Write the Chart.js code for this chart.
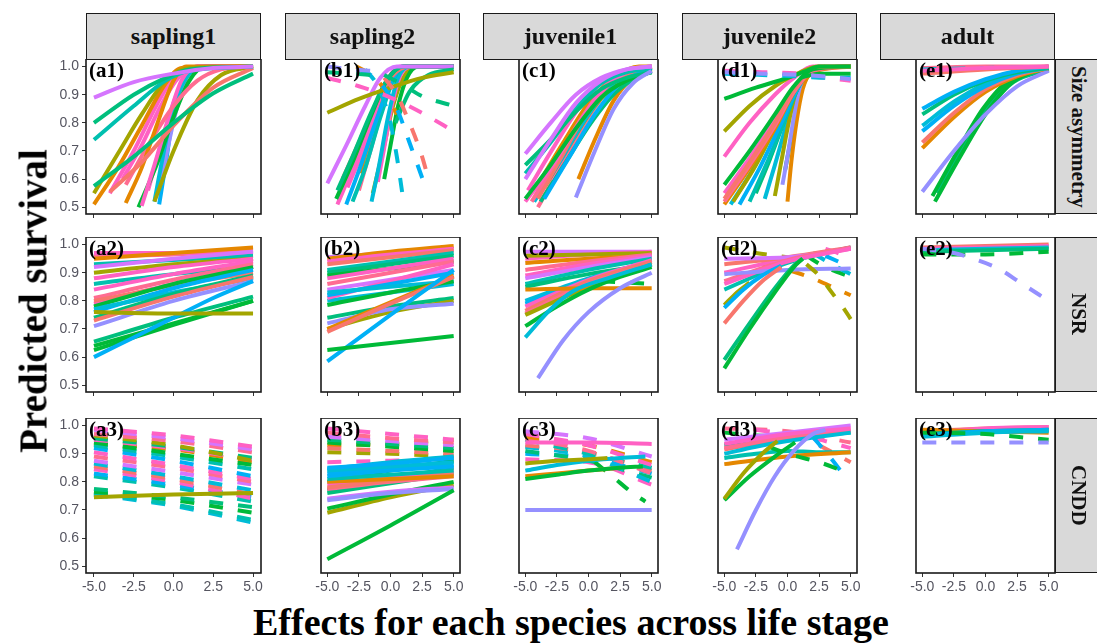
<!DOCTYPE html>
<html>
<head>
<meta charset="utf-8">
<script src="https://cdn.jsdelivr.net/npm/chart.js@4.4.1/dist/chart.umd.min.js"></script>
<style>
  body { margin: 0; background: #fff; }
  #fig { position: relative; width: 1097px; height: 643px; overflow: hidden; font-family: "Liberation Serif", "Times New Roman", serif; }
  #fig canvas { position: absolute; }
  .strip { position: absolute; background: #d9d9d9; border: 1.5px solid #1a1a1a; box-sizing: border-box;
           display: flex; align-items: center; justify-content: center; font-weight: bold; font-size: 24px; color: #111; }
  .strip.side { font-size: 21px; }
  .strip.side span { writing-mode: vertical-rl; white-space: nowrap; }
  .title { position: absolute; font-weight: bold; line-height: 1; white-space: nowrap; color: #000; }
</style>
</head>
<body>
<div id="fig"></div>
<script>
// life stages (columns) and effects (rows)
const stages = ['sapling1', 'sapling2', 'juvenile1', 'juvenile2', 'adult'];
const effects = ['Size asymmetry', 'NSR', 'CNDD'];
const xTicks = [-5, -2.5, 0, 2.5, 5];
const yTicks = [0.5, 0.6, 0.7, 0.8, 0.9, 1.0];

// species colours (ggplot hue style)
const speciesColors = ['#F8766D', '#E58700', '#A3A500', '#00BA38', '#00BF7D', '#00C0AF',
                       '#00BCD8', '#00B0F6', '#9590FF', '#D575FE', '#FF61C3', '#FF6C91'];

// each line: [species, significant (1 solid / 0 dashed), [[effect, survival], ...]]
// row 1 - size asymmetry
const a1 = [
  [9,1,[[-5,.89],[-2.5,.945],[0,.975],[2.5,.995],[5,1]]],
  [4,1,[[-5,.80],[-2.5,.90],[-0.5,.96],[1,.99],[5,1]]],
  [5,1,[[-5,.74],[-2.5,.86],[-0.5,.95],[1,.985],[5,1]]],
  [4,1,[[-5,.575],[-2.5,.68],[0,.80],[2.5,.905],[5,.975]]],
  [0,1,[[-4,.555],[-2,.66],[0,.79],[2.5,.925],[5,.995]]],
  [2,1,[[-5,.55],[-3.5,.69],[-2,.83],[-0.5,.95],[1,.995],[5,1]]],
  [1,1,[[-5,.51],[-3.5,.64],[-2,.79],[-0.5,.94],[0.5,.995],[5,1]]],
  [1,1,[[-3,.515],[-2,.64],[-1,.80],[0,.95],[0.8,1],[5,1]]],
  [11,1,[[-3,.58],[-1.5,.73],[0,.86],[1.5,.95],[3,.99],[5,1]]],
  [2,1,[[-1.2,.52],[0,.70],[1.5,.88],[3,.97],[5,1]]],
  [10,1,[[-4,.55],[-2.5,.70],[-1,.87],[0,.96],[1,.995],[5,1]]],
  [10,1,[[-3.2,.60],[-2,.72],[-0.8,.86],[0.3,.96],[1.5,1],[5,1]]],
  [10,1,[[-2,.505],[-1.2,.65],[-0.3,.82],[0.5,.95],[1.5,1],[5,1]]],
  [3,1,[[-2.2,.50],[-1,.66],[0,.82],[1,.95],[2,1],[5,1]]],
  [6,1,[[-1.2,.52],[-0.6,.70],[0,.85],[0.8,.96],[2,1],[5,1]]],
  [8,1,[[-0.8,.58],[-0.4,.70],[0.2,.85],[0.8,.96],[1.5,1],[5,1]]],
  [7,1,[[-0.9,.51],[-0.5,.65],[-0.1,.80],[0.5,.94],[1.2,.995],[5,1]]],
  [10,1,[[-1.6,.56],[-0.8,.72],[0,.87],[0.8,.97],[1.8,1],[5,1]]]
];
const b1 = [
  [8,0,[[-5,1.0],[-3,.99],[-1.5,.985]]],
  [4,0,[[-5,.98],[-3,.975],[-1.5,.97]]],
  [10,0,[[-5,.96],[-2.5,.93],[0,.89],[2.5,.835],[5,.77]]],
  [4,0,[[-0.5,.97],[1,.935],[2.5,.895],[5,.86]]],
  [0,0,[[-0.5,.96],[0.5,.90],[1.5,.80],[2.5,.68],[3,.60]]],
  [7,0,[[-2.5,.99],[-1,.95],[0.5,.85],[1.5,.73],[2.9,.555]]],
  [6,0,[[-2,.99],[-1,.93],[0,.80],[0.5,.68],[1,.53]]],
  [1,0,[[-2.7,1.0],[-1.5,.97],[-0.5,.92],[0.5,.83]]],
  [2,1,[[-5,.836],[-2.5,.885],[0,.925],[2.5,.96],[5,.98]]],
  [4,1,[[0.4,.80],[1.5,.91],[3,.97],[5,.99]]],
  [9,1,[[-5,.585],[-3.5,.72],[-2,.86],[-0.8,.96],[0.5,1],[5,1]]],
  [4,1,[[-4.2,.56],[-3,.68],[-1.5,.84],[-0.3,.95],[1,1],[5,1]]],
  [3,1,[[-4.3,.53],[-3,.66],[-1.5,.83],[-0.3,.95],[1,1],[5,1]]],
  [10,1,[[-4.2,.51],[-3,.64],[-1.5,.82],[-0.3,.95],[0.8,1],[5,1]]],
  [0,1,[[-3.8,.60],[-2.5,.73],[-1,.88],[0.2,.97],[1.5,1],[5,1]]],
  [7,1,[[-3.5,.51],[-2.5,.63],[-1.2,.80],[0,.94],[1,1],[5,1]]],
  [5,1,[[-3,.52],[-2,.64],[-0.8,.82],[0.3,.96],[1.2,1],[5,1]]],
  [11,1,[[-2.5,.56],[-1.6,.70],[-0.6,.86],[0.3,.97],[1.2,1],[5,1]]],
  [1,1,[[-2.3,.62],[-1.5,.74],[-0.5,.89],[0.4,.98],[1.5,1],[5,1]]],
  [6,1,[[-1.5,.52],[-0.9,.65],[-0.2,.82],[0.6,.96],[1.5,1],[5,1]]],
  [10,1,[[-1,.59],[-0.5,.71],[0.1,.86],[0.8,.97],[1.8,1],[5,1]]],
  [3,1,[[-0.5,.60],[0,.72],[0.6,.86],[1.3,.96],[2.2,1],[5,1]]],
  [2,1,[[-1.4,.55],[-0.6,.70],[0.2,.86],[1,.96],[2,1],[5,1]]],
  [10,1,[[-3.4,.57],[-2.2,.70],[-1,.85],[0,.95],[1.2,1],[5,1]]]
];
const c1 = [
  [8,1,[[-1,.535],[0.5,.70],[2,.85],[3.5,.94],[5,.985]]],
  [9,1,[[-5,.69],[-3,.80],[-1,.90],[1,.96],[3,.99],[5,1]]],
  [9,1,[[-5,.60],[-3,.74],[-1,.87],[1,.95],[3,.99],[5,1]]],
  [4,1,[[-5,.65],[-3,.74],[-1,.84],[1,.92],[3,.96],[5,.98]]],
  [5,1,[[-5,.62],[-3,.73],[-1,.85],[1,.94],[3,.98],[5,.99]]],
  [3,1,[[-5,.53],[-3,.65],[-1,.78],[1,.89],[3,.95],[5,.98]]],
  [10,1,[[-5,.52],[-3,.64],[-1,.78],[1,.91],[3,.98],[5,1]]],
  [11,1,[[-4.5,.52],[-2.5,.67],[-0.5,.82],[1.5,.94],[3.5,.99],[5,1]]],
  [0,1,[[-4,.53],[-2,.69],[0,.85],[2,.95],[4,.99],[5,1]]],
  [1,1,[[-4,.58],[-2,.73],[0,.87],[2,.96],[4,1],[5,1]]],
  [7,1,[[-3.5,.53],[-1.5,.68],[0.5,.83],[2.5,.94],[5,.995]]],
  [6,1,[[-4.3,.52],[-2.3,.66],[-0.3,.81],[1.7,.93],[3.7,.985],[5,1]]],
  [2,1,[[-3.5,.57],[-1.5,.72],[0.5,.86],[2.5,.95],[5,1]]],
  [10,1,[[-3,.60],[-1,.76],[1,.90],[3,.97],[5,1]]],
  [4,1,[[-3.8,.52],[-1.8,.66],[0.2,.80],[2.2,.91],[4.2,.97],[5,.985]]],
  [10,1,[[-4.8,.56],[-2.8,.71],[-0.8,.85],[1.2,.95],[3.2,.99],[5,1]]],
  [1,1,[[-0.8,.60],[0.5,.74],[2,.88],[3.5,.96],[5,.99]]],
  [11,1,[[-4,.50],[-2,.66],[0,.82],[2,.94],[4,.99],[5,1]]]
];
const d1 = [
  [8,0,[[-5,.98],[-2,.975],[1,.97],[3,.965],[5,.955]]],
  [6,0,[[-5,.975],[-2,.97],[1,.965],[3,.96],[5,.96]]],
  [10,0,[[-5,.985],[-2,.98],[1,.975],[3,.96],[5,.95]]],
  [3,1,[[1,.96],[2.5,.975],[5,.975]]],
  [3,1,[[-5,.885],[-2.5,.925],[0,.96],[1.5,.985],[2.5,1],[5,1]]],
  [2,1,[[-5,.77],[-3,.86],[-1,.93],[1,.98],[2.5,1],[5,1]]],
  [10,1,[[-5,.68],[-3,.80],[-1,.90],[0.5,.96],[2,1],[5,1]]],
  [3,1,[[-5,.58],[-3,.70],[-1,.83],[0.5,.93],[2,.99],[5,1]]],
  [0,1,[[-5,.53],[-3,.66],[-1,.80],[0.5,.92],[2,.99],[5,1]]],
  [11,1,[[-5,.52],[-3,.65],[-1,.79],[0.5,.91],[2,.985],[5,1]]],
  [1,1,[[-5,.51],[-3,.64],[-1,.78],[0.5,.91],[2,.98],[5,1]]],
  [10,1,[[-5,.55],[-3,.675],[-1,.81],[0.5,.92],[2,.99],[5,1]]],
  [2,1,[[-4.3,.52],[-2.5,.65],[-0.8,.80],[0.8,.93],[2,.99],[5,1]]],
  [6,1,[[-4.5,.51],[-2.8,.63],[-1,.78],[0.7,.92],[2,.99],[5,1]]],
  [7,1,[[-3.8,.51],[-2.2,.64],[-0.6,.79],[0.9,.93],[2,.99],[5,1]]],
  [5,1,[[-3,.52],[-1.7,.65],[-0.4,.79],[0.9,.93],[2,.99],[5,1]]],
  [4,1,[[-2.5,.55],[-1.4,.67],[-0.3,.80],[0.9,.93],[2,.99],[5,1]]],
  [2,1,[[-1,.54],[-0.5,.66],[0,.78],[0.6,.90],[1.5,.98],[2.5,1]]],
  [8,1,[[-0.4,.58],[0,.68],[0.5,.82],[1,.93],[1.8,.99],[2.5,1]]],
  [1,1,[[0,.52],[0.3,.66],[0.7,.80],[1.2,.92],[2,.99],[2.5,1]]],
  [3,1,[[-0.2,.63],[0.3,.75],[0.8,.87],[1.4,.95],[2.2,.99],[3,1]]],
  [6,1,[[-1.8,.53],[-1,.65],[-0.1,.79],[0.9,.92],[2,.99],[5,1]]]
];
const e1 = [
  [10,1,[[-5,.985],[0,.995],[5,1]]],
  [0,1,[[-5,.975],[0,.99],[5,1]]],
  [6,0,[[-5,.99],[0,.995],[5,.998]]],
  [11,1,[[-5,.995],[0,1],[5,1]]],
  [7,1,[[-5,.85],[-2.5,.91],[0,.955],[2.5,.985],[5,1]]],
  [4,1,[[-5,.83],[-2.5,.90],[0,.95],[2.5,.98],[5,.995]]],
  [6,1,[[-5,.79],[-2.5,.875],[0,.94],[2.5,.98],[5,1]]],
  [7,1,[[-5,.77],[-2.5,.86],[0,.93],[2.5,.975],[5,.995]]],
  [0,1,[[-5,.73],[-2.5,.835],[0,.92],[2.5,.97],[5,.995]]],
  [1,1,[[-5,.71],[-2.5,.82],[0,.91],[2.5,.965],[5,.995]]],
  [8,1,[[-5,.555],[-2.5,.70],[0,.83],[2.5,.93],[5,.985]]],
  [3,1,[[-4,.52],[-2,.68],[0,.83],[2,.94],[4,.985],[5,.99]]],
  [3,1,[[-4.2,.54],[-2.2,.70],[-0.2,.85],[1.8,.95],[4,.99],[5,.995]]],
  [4,1,[[-3.8,.55],[-1.8,.71],[0.2,.85],[2.2,.945],[5,.99]]],
  [3,1,[[-3.8,.565],[-1.8,.725],[0.2,.86],[2.2,.95],[5,.99]]]
];

// row 2 - NSR
const a2 = [
  [2,1,[[-5,.76],[0,.755],[5,.755]]],
  [7,1,[[-5,.60],[-2.5,.67],[0,.74],[2.5,.81],[5,.87]]],
  [3,1,[[-5,.64],[0,.72],[5,.80]]],
  [4,1,[[-5,.655],[0,.74],[5,.815]]],
  [3,1,[[-5,.625],[0,.715],[5,.80]]],
  [8,1,[[-5,.71],[0,.80],[5,.87]]],
  [0,1,[[-5,.73],[0,.815],[5,.885]]],
  [4,1,[[-5,.74],[0,.825],[5,.89]]],
  [6,1,[[-5,.77],[0,.83],[5,.88]]],
  [7,1,[[-5,.76],[0,.845],[5,.91]]],
  [3,1,[[-5,.78],[0,.86],[5,.92]]],
  [0,1,[[-5,.80],[0,.855],[5,.90]]],
  [11,1,[[-5,.81],[0,.875],[5,.93]]],
  [10,1,[[-5,.84],[0,.895],[5,.94]]],
  [5,1,[[-5,.86],[0,.895],[5,.92]]],
  [10,1,[[-5,.88],[0,.92],[5,.95]]],
  [2,1,[[-5,.90],[0,.93],[5,.95]]],
  [9,1,[[-5,.92],[0,.95],[5,.975]]],
  [5,1,[[-5,.93],[0,.945],[5,.96]]],
  [1,1,[[-5,.95],[0,.97],[5,.99]]],
  [10,1,[[-5,.97],[0,.97],[5,.97]]],
  [11,1,[[-5,.96],[0,.965],[5,.98]]],
  [10,1,[[-5,.79],[0,.86],[5,.92]]]
];
const b2 = [
  [3,1,[[-5,.625],[0,.65],[5,.675]]],
  [7,1,[[-5,.585],[0,.75],[5,.91]]],
  [0,1,[[-5,.69],[0,.79],[5,.885]]],
  [1,1,[[-5,.70],[0,.795],[5,.89]]],
  [8,1,[[-5,.72],[0,.77],[5,.79]]],
  [2,1,[[-5,.70],[0,.76],[5,.80]]],
  [4,1,[[-5,.74],[0,.78],[5,.81]]],
  [3,1,[[-5,.785],[0,.83],[5,.87]]],
  [6,1,[[-5,.83],[0,.85],[5,.87]]],
  [7,1,[[-5,.82],[0,.86],[5,.90]]],
  [10,1,[[-5,.81],[0,.87],[5,.93]]],
  [9,1,[[-5,.84],[0,.875],[5,.91]]],
  [11,1,[[-5,.86],[0,.90],[5,.94]]],
  [10,1,[[-5,.88],[0,.915],[5,.95]]],
  [3,1,[[-5,.89],[0,.915],[5,.94]]],
  [4,1,[[-5,.90],[0,.93],[5,.96]]],
  [5,1,[[-5,.91],[0,.94],[5,.97]]],
  [0,1,[[-5,.93],[0,.955],[5,.98]]],
  [10,1,[[-5,.94],[0,.965],[5,.985]]],
  [1,1,[[-5,.95],[0,.975],[5,.995]]],
  [9,1,[[-5,.955],[0,.97],[5,.985]]],
  [6,1,[[-5,.80],[0,.83],[5,.86]]]
];
const c2 = [
  [8,1,[[-4,.525],[-2,.66],[0,.76],[2.5,.845],[5,.90]]],
  [6,1,[[-5,.67],[-3,.77],[-1.2,.835],[1.5,.88],[5,.93]]],
  [3,1,[[-5,.71],[-2.5,.78],[0,.84],[2.5,.885],[5,.92]]],
  [1,1,[[-5,.84],[0,.845],[5,.845]]],
  [3,0,[[1,.87],[3,.865],[5,.86]]],
  [2,1,[[-5,.75],[0,.85],[5,.93]]],
  [11,1,[[-5,.755],[0,.86],[5,.93]]],
  [0,1,[[-5,.765],[0,.87],[5,.94]]],
  [10,1,[[-5,.78],[0,.875],[5,.945]]],
  [7,1,[[-5,.79],[0,.87],[5,.93]]],
  [6,1,[[-5,.80],[0,.88],[5,.94]]],
  [4,1,[[-5,.85],[0,.895],[5,.93]]],
  [5,1,[[-5,.86],[0,.91],[5,.95]]],
  [9,1,[[-5,.88],[0,.92],[5,.955]]],
  [10,1,[[-5,.89],[0,.93],[5,.96]]],
  [11,1,[[-5,.91],[0,.94],[5,.965]]],
  [1,1,[[-5,.935],[0,.95],[5,.96]]],
  [2,1,[[-5,.96],[0,.965],[5,.97]]],
  [10,1,[[-5,.95],[0,.965],[5,.975]]],
  [9,1,[[-5,.975],[0,.975],[5,.975]]]
];
const d2 = [
  [3,1,[[-5,.56],[-3,.70],[-1,.83],[0.5,.92],[1.2,.95]]],
  [4,1,[[-5,.59],[-3,.72],[-1,.845],[0.5,.925],[1.2,.95]]],
  [2,0,[[1.5,.93],[2.5,.89],[3.5,.83],[4.5,.77],[5,.735]]],
  [0,1,[[-5,.72],[-3.5,.80],[-2,.87],[-0.5,.92]]],
  [7,1,[[-5,.775],[-3.5,.84],[-2,.89],[-0.5,.925]]],
  [2,1,[[-5,.785],[-4,.83],[-3,.865]]],
  [8,1,[[-5,.895],[0,.91],[5,.915]]],
  [10,1,[[-5,.86],[0,.94],[5,.985]]],
  [11,1,[[-5,.87],[0,.945],[5,.99]]],
  [5,1,[[-5,.84],[0,.935],[5,.99]]],
  [9,1,[[-5,.95],[0,.955],[5,.985]]],
  [0,1,[[-5,.93],[0,.955],[5,.99]]],
  [10,1,[[-5,.90],[0,.95],[5,.985]]],
  [2,0,[[-5,.99],[-2.5,.97],[0,.955]]],
  [1,0,[[-2,.925],[0,.91],[2,.88],[4,.84],[5,.82]]],
  [6,0,[[2,.97],[3.5,.93],[5,.895]]],
  [3,0,[[1.5,.96],[3,.92],[5,.885]]],
  [10,0,[[3,.985],[4,.97],[5,.95]]],
  [7,0,[[3,.96],[5,.92]]]
];
const e2 = [
  [8,0,[[-5,.985],[-2.5,.97],[-1,.95],[1,.915],[2.75,.865],[5,.80]]],
  [3,0,[[-5,.965],[0,.965],[5,.975]]],
  [4,1,[[-5,.975],[0,.98],[5,.985]]],
  [6,1,[[-5,.98],[0,.985],[5,.99]]],
  [10,1,[[-5,.985],[0,.99],[5,.995]]],
  [0,1,[[-5,.99],[0,.995],[5,1]]]
];

// row 3 - CNDD
const a3 = [
  [2,1,[[-5,.745],[0,.755],[5,.76]]],
  [10,0,[[-5,.99],[0,.965],[5,.925]]],
  [9,0,[[-5,.985],[0,.955],[5,.915]]],
  [11,0,[[-5,.97],[0,.945],[5,.905]]],
  [2,0,[[-5,.965],[0,.93],[5,.875]]],
  [4,0,[[-5,.955],[0,.925],[5,.885]]],
  [10,0,[[-5,.95],[0,.92],[5,.88]]],
  [3,0,[[-5,.94],[0,.90],[5,.86]]],
  [5,0,[[-5,.93],[0,.89],[5,.845]]],
  [7,0,[[-5,.92],[0,.875],[5,.82]]],
  [10,0,[[-5,.905],[0,.86],[5,.81]]],
  [11,0,[[-5,.89],[0,.85],[5,.80]]],
  [9,0,[[-5,.875],[0,.835],[5,.79]]],
  [6,0,[[-5,.865],[0,.82],[5,.77]]],
  [0,0,[[-5,.855],[0,.81],[5,.755]]],
  [10,0,[[-5,.845],[0,.80],[5,.74]]],
  [7,0,[[-5,.83],[0,.79],[5,.745]]],
  [5,0,[[-5,.82],[0,.78],[5,.73]]],
  [4,0,[[-5,.775],[0,.745],[5,.71]]],
  [3,0,[[-5,.765],[0,.735],[5,.69]]],
  [5,0,[[-5,.76],[0,.72],[5,.665]]],
  [6,0,[[-5,.755],[0,.715],[5,.655]]],
  [1,0,[[-5,.935],[0,.915],[5,.87]]]
];
const b3 = [
  [3,1,[[-5,.525],[0,.645],[5,.77]]],
  [7,1,[[-5,.85],[0,.865],[5,.885]]],
  [6,1,[[-5,.84],[0,.855],[5,.87]]],
  [7,1,[[-5,.83],[0,.845],[5,.86]]],
  [7,1,[[-5,.82],[0,.84],[5,.855]]],
  [5,1,[[-5,.81],[0,.825],[5,.84]]],
  [1,1,[[-5,.80],[0,.81],[5,.82]]],
  [0,1,[[-5,.78],[0,.805],[5,.83]]],
  [11,1,[[-5,.775],[0,.80],[5,.82]]],
  [10,1,[[-5,.79],[0,.815],[5,.84]]],
  [4,1,[[-5,.76],[0,.795],[5,.83]]],
  [8,1,[[-5,.735],[0,.76],[5,.775]]],
  [9,1,[[-5,.74],[0,.765],[5,.78]]],
  [3,1,[[-5,.705],[0,.755],[5,.80]]],
  [2,1,[[-5,.69],[0,.745],[5,.79]]],
  [4,1,[[-5,.77],[0,.81],[5,.85]]],
  [3,1,[[-5,.80],[0,.84],[5,.875]]],
  [6,1,[[-5,.845],[0,.87],[5,.89]]],
  [10,0,[[-5,.99],[0,.97],[5,.95]]],
  [11,0,[[-5,.975],[0,.955],[5,.94]]],
  [9,0,[[-5,.96],[0,.945],[5,.93]]],
  [4,0,[[-5,.95],[0,.935],[5,.92]]],
  [3,0,[[-5,.94],[0,.925],[5,.91]]],
  [0,0,[[-5,.92],[0,.91],[5,.90]]],
  [2,0,[[-5,.905],[0,.90],[5,.89]]],
  [10,0,[[-5,.87],[0,.875],[5,.88]]],
  [1,0,[[-5,.93],[0,.935],[5,.95]]]
];
const c3 = [
  [8,1,[[-5,.70],[0,.70],[5,.70]]],
  [10,1,[[-5,.94],[0,.94],[5,.935]]],
  [3,1,[[-5,.81],[-2.5,.825],[0,.84],[2.5,.85],[4.3,.855]]],
  [1,1,[[-5,.82],[-2.5,.83],[0,.84],[2.5,.85]]],
  [2,1,[[-5,.865],[-2.5,.875],[0,.88],[1.5,.885]]],
  [6,1,[[-5,.84],[-2.5,.86],[0,.875],[2.5,.885],[4.5,.89]]],
  [3,0,[[0.5,.87],[2,.815],[3.5,.76],[4.5,.73]]],
  [9,0,[[-5,.98],[0,.955],[5,.89]]],
  [10,0,[[-5,.97],[0,.93],[5,.86]]],
  [1,0,[[-5,.96],[0,.93],[5,.87]]],
  [11,0,[[-5,.955],[0,.91],[5,.83]]],
  [5,0,[[-5,.95],[0,.90],[5,.85]]],
  [0,0,[[-5,.93],[0,.905],[5,.84]]],
  [6,0,[[-5,.925],[0,.89],[5,.80]]],
  [4,0,[[-5,.91],[0,.875],[5,.815]]],
  [7,0,[[-5,.90],[0,.885],[5,.83]]],
  [10,0,[[-5,.88],[0,.87],[5,.79]]]
];
const d3 = [
  [8,1,[[-4,.56],[-2.5,.70],[-1,.82],[0.5,.91],[2,.97],[3,.985]]],
  [2,1,[[-5,.74],[-3.5,.83],[-2,.90],[-0.8,.945]]],
  [3,1,[[-5,.735],[-3,.82],[-1,.89],[0.6,.94]]],
  [3,0,[[-1.5,.925],[0,.90],[2.5,.87],[4,.845],[5,.825]]],
  [1,1,[[-5,.863],[0,.89],[5,.905]]],
  [5,1,[[-5,.885],[-2.5,.90],[0,.91],[2.5,.905],[5,.905]]],
  [6,1,[[-5,.90],[-2.5,.925],[0,.945],[2.5,.96],[5,.975]]],
  [7,0,[[2,.96],[3.5,.88],[4.6,.815]]],
  [10,1,[[-5,.935],[0,.97],[5,.99]]],
  [9,1,[[-5,.95],[0,.975],[5,1]]],
  [11,1,[[-5,.92],[0,.96],[5,.985]]],
  [0,1,[[-5,.915],[0,.955],[5,.98]]],
  [4,1,[[-5,.93],[0,.955],[5,.975]]],
  [10,0,[[-2.5,.985],[0,.97],[2.5,.95],[5,.92]]],
  [0,0,[[2.5,.93],[5,.87]]],
  [3,0,[[-5,.975],[-2.5,.965],[0,.96]]],
  [11,0,[[-5,.99],[0,.98],[5,.94]]]
];
const e3 = [
  [8,0,[[-5,.94],[0,.94],[5,.94]]],
  [3,0,[[-5,.975],[0,.97],[2.5,.96],[5,.95]]],
  [6,1,[[-5,.96],[0,.975],[5,.98]]],
  [7,1,[[-5,.965],[0,.98],[5,.985]]],
  [4,1,[[-5,.97],[0,.98],[5,.985]]],
  [1,1,[[-5,.985],[0,.98],[5,.975]]],
  [10,1,[[-5,.975],[0,.99],[5,.995]]],
  [0,1,[[-5,.98],[0,.99],[5,.995]]]
];

const panels = [[a1, b1, c1, d1, e1], [a2, b2, c2, d2, e2], [a3, b3, c3, d3, e3]];

// page layout
const colLeft = [86, 285, 483, 682, 880];
const rowTop = [59, 237, 418];
const panelW = 175, panelH = 155;
const yAxisW = 36, margin = 14;
const tickFont = { family: '"Liberation Sans", Arial, sans-serif', size: 14 };
const tickColor = '#555560';

const fig = document.getElementById('fig');

// panel border and (a1) style tag
const panelFrame = {
  id: 'panelFrame',
  afterDatasetsDraw(chart, args, opts) {
    const { ctx, chartArea: a } = chart;
    ctx.save();
    ctx.font = 'bold 21px "Liberation Serif", serif';
    ctx.fillStyle = '#000';
    ctx.textBaseline = 'top';
    ctx.fillText(opts.tag, a.left + 3, a.top + 2);
    ctx.lineWidth = 1.6;
    ctx.strokeStyle = '#1a1a1a';
    ctx.strokeRect(a.left, a.top, a.width, a.height);
    ctx.restore();
  }
};

function makePanel(row, col) {
  const lines = panels[row][col];
  const showY = col === 0;
  const xAxisH = row === 2 ? 24 : 5;
  const canvas = document.createElement('canvas');
  const left = colLeft[col] - margin - (showY ? yAxisW : 0);
  canvas.width = margin * 2 + panelW + (showY ? yAxisW : 0);
  canvas.height = panelH + xAxisH;
  canvas.style.left = left + 'px';
  canvas.style.top = rowTop[row] + 'px';
  fig.appendChild(canvas);

  const datasets = lines.map(([sp, sig, pts]) => ({
    data: pts.map(([x, y]) => ({ x, y })),
    borderColor: speciesColors[sp],
    borderDash: sig ? [] : [14, 15],
    borderWidth: 4,
    pointRadius: 0,
    cubicInterpolationMode: 'monotone',
    fill: false
  }));

  const tickGrid = { drawOnChartArea: false, drawTicks: true, tickLength: 4, color: '#333', lineWidth: 1 };

  new Chart(canvas, {
    type: 'line',
    data: { datasets },
    options: {
      responsive: false,
      animation: false,
      layout: { padding: { left: margin, right: margin, top: 0, bottom: 0 } },
      plugins: {
        legend: { display: false },
        tooltip: { enabled: false },
        panelFrame: { tag: '(' + 'abcde'[col] + (row + 1) + ')' }
      },
      scales: {
        x: {
          type: 'linear', min: -5.5, max: 5.5,
          afterBuildTicks: s => { s.ticks = xTicks.map(v => ({ value: v })); },
          afterFit: s => { s.height = xAxisH; s.paddingLeft = 0; s.paddingRight = 0; },
          grid: tickGrid,
          border: { display: false },
          ticks: { display: row === 2, autoSkip: false, maxRotation: 0, padding: 2,
                   color: tickColor, font: tickFont, callback: v => v.toFixed(1) }
        },
        y: {
          type: 'linear', min: 0.476, max: 1.027, display: showY,
          afterBuildTicks: s => { s.ticks = yTicks.map(v => ({ value: v })); },
          afterFit: s => { s.width = yAxisW; s.paddingTop = 0; s.paddingBottom = 0; },
          grid: tickGrid,
          border: { display: false },
          ticks: { padding: 3, color: tickColor, font: tickFont, callback: v => v.toFixed(1) }
        }
      }
    },
    plugins: [panelFrame]
  });
}

for (let r = 0; r < 3; r++) {
  for (let c = 0; c < 5; c++) makePanel(r, c);
}

// strips
stages.forEach((s, c) => {
  const d = document.createElement('div');
  d.className = 'strip';
  d.style.cssText = `left:${colLeft[c]}px;top:13px;width:${panelW}px;height:47px;`;
  d.textContent = s;
  fig.appendChild(d);
});
effects.forEach((e, r) => {
  const d = document.createElement('div');
  d.className = 'strip side';
  d.style.cssText = `left:${colLeft[4] + panelW}px;top:${rowTop[r]}px;width:46px;height:${panelH}px;`;
  d.innerHTML = '<span>' + e + '</span>';
  fig.appendChild(d);
});

// axis titles
const yt = document.createElement('div');
yt.className = 'title';
yt.textContent = 'Predicted survival';
yt.style.cssText = 'font-size:39px;left:33px;top:301px;transform:translate(-50%,-50%) rotate(-90deg);';
fig.appendChild(yt);

const xt = document.createElement('div');
xt.className = 'title';
xt.textContent = 'Effects for each species across life stage';
xt.style.cssText = 'font-size:38px;left:571px;top:603px;transform:translateX(-50%);';
fig.appendChild(xt);
</script>
</body>
</html>
